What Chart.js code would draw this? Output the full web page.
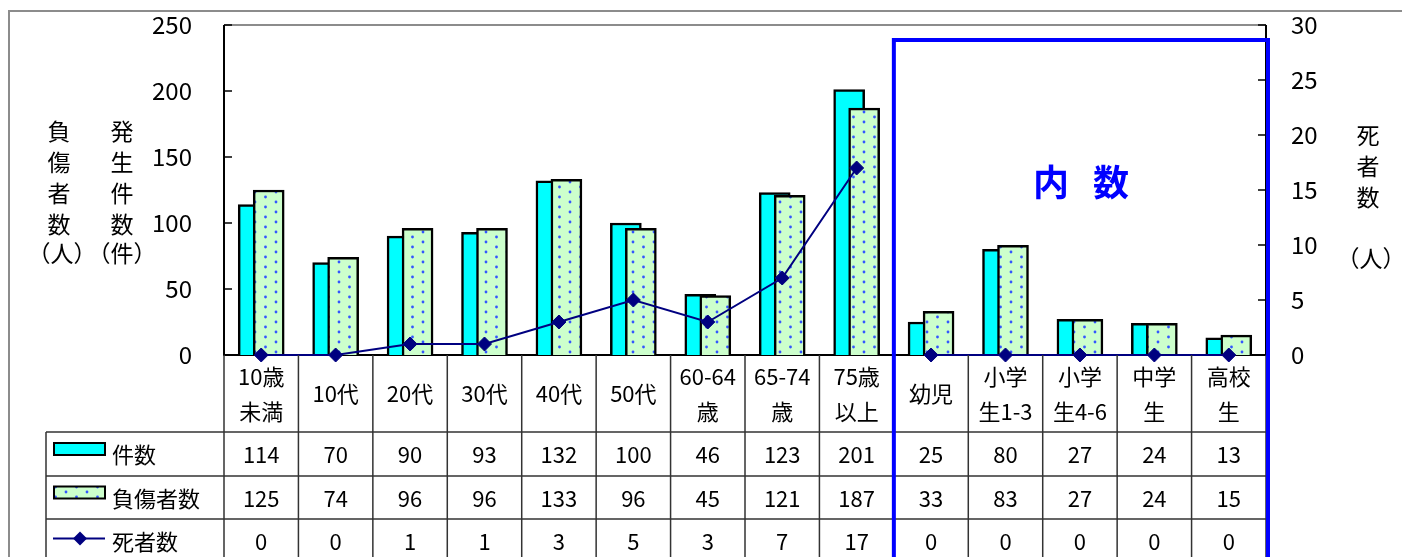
<!DOCTYPE html>
<html>
<head>
<meta charset="utf-8">
<script src="https://cdn.jsdelivr.net/npm/chart.js@4"></script>
<style>
  html, body { margin: 0; padding: 0; background: #fff; }
</style>
</head>
<body>
<canvas id="chart" width="1402" height="557"></canvas>
<script>
// data
var categories = [["10歳", "未満"], ["10代"], ["20代"], ["30代"], ["40代"], ["50代"],
  ["60-64", "歳"], ["65-74", "歳"], ["75歳", "以上"], ["幼児"], ["小学", "生1-3"],
  ["小学", "生4-6"], ["中学", "生"], ["高校", "生"]];
var cases = [114, 70, 90, 93, 132, 100, 46, 123, 201, 25, 80, 27, 24, 13];
var injured = [125, 74, 96, 96, 133, 96, 45, 121, 187, 33, 83, 27, 24, 15];
var deaths = [0, 0, 1, 1, 3, 5, 3, 7, 17, 0, 0, 0, 0, 0];
var seriesNames = ["件数", "負傷者数", "死者数"];
var subsetStart = 9;   // first category of the 内数 block

var FONT = "'Noto Sans CJK JP', 'Noto Sans', sans-serif";
var NAVY = "#000080";
Chart.defaults.font.family = FONT;
Chart.defaults.color = "#000";

// light green with blue dots, like the excel fill
function dotPattern() {
  var c = document.createElement("canvas");
  c.width = 21; c.height = 10;
  var g = c.getContext("2d");
  g.fillStyle = "#ccffcc";
  g.fillRect(0, 0, 21, 10);
  g.fillStyle = "#3355ff";
  g.beginPath(); g.arc(3, 2, 1.4, 0, Math.PI * 2); g.fill();
  g.beginPath(); g.arc(13.5, 7, 1.4, 0, Math.PI * 2); g.fill();
  return document.createElement("canvas").getContext("2d").createPattern(c, "repeat");
}
var dots = dotPattern();

// pushes the two bars apart so they overlap by half, as in the original
var barShift = {
  id: "barShift",
  afterDatasetsUpdate: function (chart) {
    chart.data.datasets.forEach(function (ds, i) {
      if (!ds.shift) return;
      chart.getDatasetMeta(i).data.forEach(function (bar) { bar.x += ds.shift; });
    });
  }
};

// plot frame, axis lines and inner tick marks
var frame = {
  id: "frame",
  beforeDatasetsDraw: function (chart) {
    var ctx = chart.ctx, a = chart.chartArea;
    ctx.save();
    ctx.strokeStyle = "#8c8c8c";
    ctx.lineWidth = 2;
    ctx.beginPath();
    ctx.moveTo(9, 557); ctx.lineTo(9, 11); ctx.lineTo(1402, 11);
    ctx.moveTo(a.left, a.top); ctx.lineTo(a.right, a.top);
    ctx.stroke();

    ctx.strokeStyle = "#000";
    ctx.beginPath();
    ctx.moveTo(a.left, a.top); ctx.lineTo(a.left, a.bottom); ctx.lineTo(a.right, a.bottom);
    ctx.moveTo(a.right, a.top); ctx.lineTo(a.right, a.bottom);
    ctx.stroke();

    ctx.lineWidth = 1.5;
    ctx.beginPath();
    chart.scales.y.ticks.forEach(function (t) {
      var y = chart.scales.y.getPixelForValue(t.value);
      ctx.moveTo(a.left, y); ctx.lineTo(a.left + 8, y);
    });
    chart.scales.y1.ticks.forEach(function (t) {
      var y = chart.scales.y1.getPixelForValue(t.value);
      ctx.moveTo(a.right - 8, y); ctx.lineTo(a.right, y);
    });
    ctx.stroke();
    ctx.restore();
  }
};

// data table under the plot, axis titles and the 内数 box
var table = {
  id: "table",
  afterDraw: function (chart) {
    var ctx = chart.ctx, a = chart.chartArea, xs = chart.scales.x;
    var n = categories.length;
    var edges = [];
    for (var i = 0; i <= n; i++) {
      if (i === 0) edges.push(a.left);
      else if (i === n) edges.push(a.right);
      else edges.push((xs.getPixelForValue(i - 1) + xs.getPixelForValue(i)) / 2);
    }
    var rows = [a.bottom, a.bottom + 77, a.bottom + 121, a.bottom + 164, a.bottom + 207];
    var legLeft = 46;

    ctx.save();
    ctx.strokeStyle = "#333";
    ctx.lineWidth = 1.5;
    ctx.beginPath();
    for (i = 0; i <= n; i++) {
      ctx.moveTo(edges[i], a.bottom); ctx.lineTo(edges[i], 557);
    }
    ctx.moveTo(legLeft, rows[1]); ctx.lineTo(legLeft, 557);
    for (i = 1; i <= 3; i++) {
      ctx.moveTo(legLeft, rows[i]); ctx.lineTo(a.right, rows[i]);
    }
    ctx.stroke();

    ctx.fillStyle = "#000";
    ctx.font = "22px " + FONT;
    ctx.textAlign = "center";
    ctx.textBaseline = "middle";
    var catMid = (rows[0] + rows[1]) / 2;
    categories.forEach(function (lines, k) {
      var cx = xs.getPixelForValue(k);
      if (lines.length === 1) ctx.fillText(lines[0], cx, catMid);
      else {
        ctx.fillText(lines[0], cx, catMid - 17);
        ctx.fillText(lines[1], cx, catMid + 18);
      }
    });

    var series = [cases, injured, deaths];
    series.forEach(function (vals, r) {
      var my = (rows[r + 1] + rows[r + 2]) / 2 + 1;
      vals.forEach(function (v, k) {
        ctx.fillText(String(v), xs.getPixelForValue(k), my);
      });
      // legend key
      var sy = my - 6;
      if (r < 2) {
        ctx.fillStyle = r === 0 ? "#00ffff" : dots;
        ctx.fillRect(54, sy - 6, 51, 12);
        ctx.strokeStyle = "#000";
        ctx.lineWidth = 2;
        ctx.strokeRect(54, sy - 6, 51, 12);
      } else {
        sy = my - 3;
        ctx.strokeStyle = NAVY;
        ctx.lineWidth = 2;
        ctx.beginPath(); ctx.moveTo(53, sy); ctx.lineTo(105, sy); ctx.stroke();
        ctx.fillStyle = NAVY;
        ctx.beginPath();
        ctx.moveTo(80, sy - 7); ctx.lineTo(87, sy); ctx.lineTo(80, sy + 7); ctx.lineTo(73, sy);
        ctx.closePath(); ctx.fill();
      }
      ctx.fillStyle = "#000";
      ctx.textAlign = "left";
      ctx.fillText(seriesNames[r], 112, my);
      ctx.textAlign = "center";
    });

    // vertical axis titles
    ctx.font = "23px " + FONT;
    function column(text, x, y0) {
      for (var j = 0; j < text.length; j++) ctx.fillText(text[j], x, y0 + j * 31);
    }
    column("負傷者数", 59, 131);
    ctx.fillText("（人）", 62, 253);
    column("発生件数", 122, 131);
    ctx.fillText("（件）", 122, 253);
    column("死者数", 1368, 135);
    ctx.fillText("（人）", 1371, 258);

    // 内数 block
    var bx = edges[subsetStart], br = a.right + 2, bt = a.top + 15;
    ctx.strokeStyle = "#0000ff";
    ctx.lineWidth = 4;
    ctx.strokeRect(bx, bt, br - bx, 557 - bt + 10);
    ctx.fillStyle = "#0000ff";
    ctx.font = "bold 36px " + FONT;
    ctx.fillText("内", (bx + br) / 2 - 30, 182);
    ctx.fillText("数", (bx + br) / 2 + 30, 182);
    ctx.restore();
  }
};

// fixed axis widths; drop the label padding so the plot top follows layout.padding
function fitAxis(width) {
  return function (s) {
    s.width = width;
    s.paddingTop = 0;
    s.paddingBottom = 0;
  };
}

var chart = new Chart(document.getElementById("chart"), {
  type: "bar",
  data: {
    labels: categories,
    datasets: [
      {
        type: "line",
        label: seriesNames[2],
        data: deaths,
        yAxisID: "y1",
        borderColor: NAVY,
        borderWidth: 2,
        backgroundColor: NAVY,
        pointStyle: "rectRot",
        pointRadius: 7,
        pointBorderWidth: 1,
        pointBackgroundColor: NAVY,
        pointBorderColor: NAVY,
        tension: 0,
        clip: false,
        order: 0,
        segment: {
          borderColor: function (c) { return c.p1DataIndex === subsetStart ? "rgba(0,0,0,0)" : NAVY; }
        }
      },
      {
        label: seriesNames[1],
        data: injured,
        backgroundColor: dots,
        borderColor: "#000",
        borderWidth: 2.5,
        borderSkipped: "bottom",
        grouped: false,
        barThickness: 31,
        shift: 7.5,
        order: 1
      },
      {
        label: seriesNames[0],
        data: cases,
        backgroundColor: "#00ffff",
        borderColor: "#000",
        borderWidth: 2.5,
        borderSkipped: "bottom",
        grouped: false,
        barThickness: 31,
        shift: -7.5,
        order: 2
      }
    ]
  },
  options: {
    responsive: false,
    animation: false,
    layout: { padding: { top: 25, bottom: 202, left: 0, right: 0 }, autoPadding: false },
    plugins: { legend: { display: false }, tooltip: { enabled: false } },
    scales: {
      x: { display: false },
      y: {
        position: "left",
        min: 0, max: 250,
        ticks: { stepSize: 50, padding: 32, font: { size: 24 } },
        grid: { display: false, drawTicks: false },
        border: { display: false },
        afterFit: fitAxis(224)
      },
      y1: {
        position: "right",
        min: 0, max: 30,
        ticks: { stepSize: 5, padding: 25, font: { size: 24 } },
        grid: { display: false, drawTicks: false },
        border: { display: false },
        afterFit: fitAxis(136)
      }
    }
  },
  plugins: [barShift, frame, table]
});
</script>
</body>
</html>
